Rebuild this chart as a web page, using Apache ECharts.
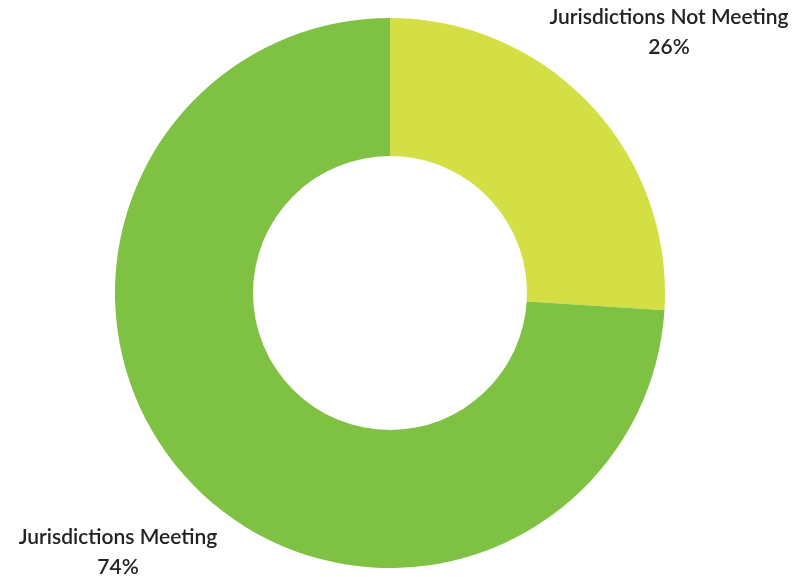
<!DOCTYPE html>
<html>
<head>
<meta charset="utf-8">
<script src="https://cdn.jsdelivr.net/npm/echarts@6/dist/echarts.min.js"></script>
<style>html,body{margin:0;padding:0;background:#fff;}#chart{width:798px;height:577px;}</style>
</head>
<body>
<div id="chart"></div>
<script>
var categories = ['Jurisdictions Not Meeting', 'Jurisdictions Meeting'];
var values = [26, 74];
var colors = ['#D4DF45', '#7FC143'];

var chart = echarts.init(document.getElementById('chart'));
chart.setOption({
  animation: false,
  series: [{
    type: 'pie',
    center: [390, 293],
    radius: [137, 275],
    startAngle: 90,
    clockwise: true,
    data: categories.map(function (c, i) {
      return { name: c, value: values[i], itemStyle: { color: colors[i] } };
    }),
    label: {
      show: true,
      position: 'outside',
      formatter: '{b}\n{d}%',
      fontFamily: 'Lato',
      fontWeight: 600,
      fontSize: 21,
      lineHeight: 30,
      color: '#222',
      align: 'center',
      overflow: 'none',
      width: 400
    },
    labelLine: { show: false },
    labelLayout: function (p) {
      if (p.dataIndex === 0) {
        return { x: 669, y: 32, align: 'center', verticalAlign: 'middle' };
      }
      return { x: 118, y: 552, align: 'center', verticalAlign: 'middle' };
    }
  }]
});
</script>
</body>
</html>
